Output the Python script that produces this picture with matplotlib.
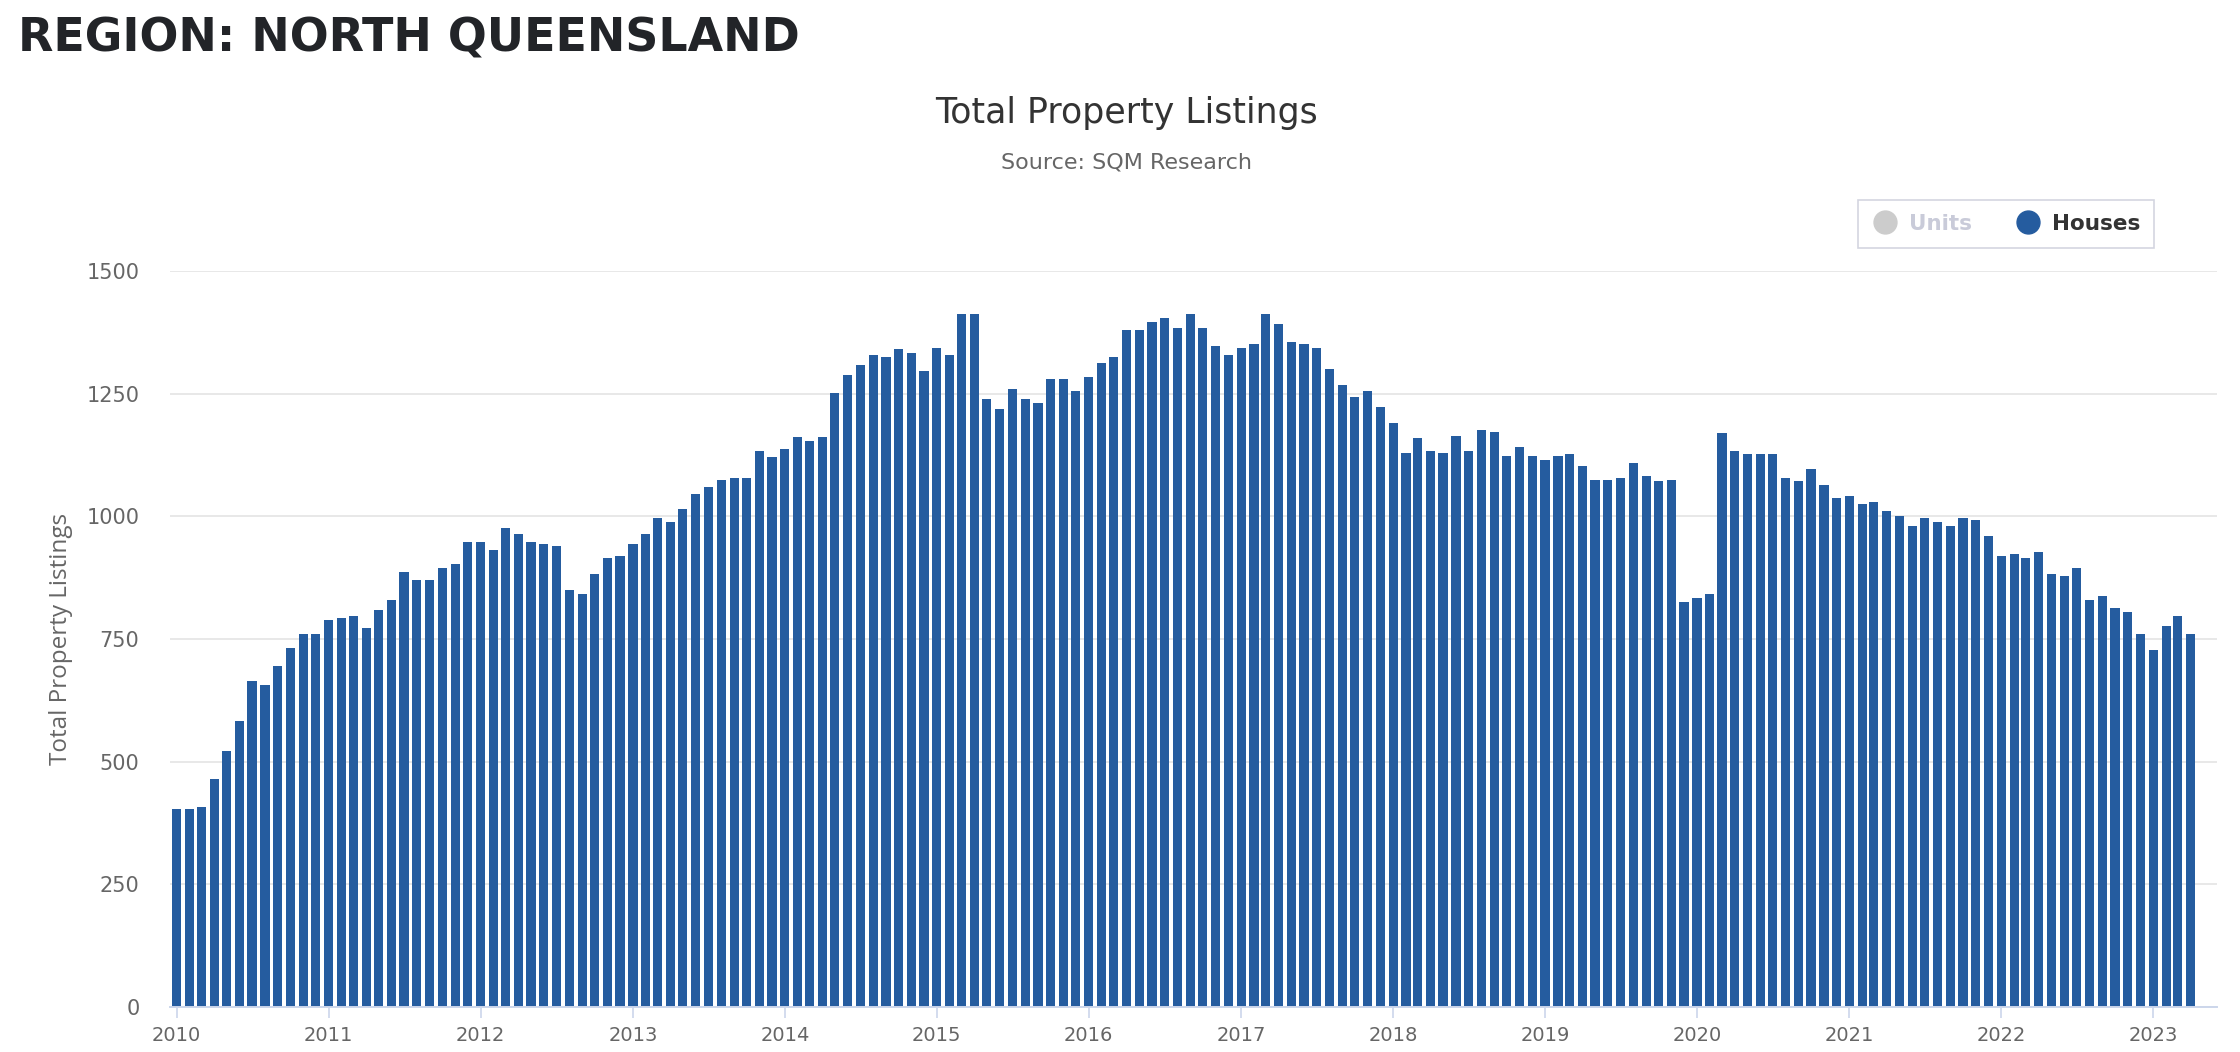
"""
Total Property Listings - North Queensland (SQM Research).
Grafica de barras mensual, solo la serie Houses visible.
"""

import matplotlib
matplotlib.use('Agg')
import matplotlib.pyplot as plt
import matplotlib.dates as mdates
from matplotlib.lines import Line2D
import pandas as pd

# Datos mensuales (Houses), enero 2010 - abril 2023
houses_2010 = [403, 403, 407, 464, 522, 583, 665, 657, 694, 731, 760, 760]
houses_2011 = [788, 792, 796, 772, 809, 829, 887, 870, 870, 895, 903, 948]
houses_2012 = [948, 932, 977, 964, 948, 944, 940, 850, 842, 883, 915, 919]
houses_2013 = [944, 964, 997, 989, 1014, 1046, 1059, 1075, 1079, 1079, 1133, 1120]
houses_2014 = [1137, 1161, 1153, 1161, 1251, 1288, 1309, 1328, 1324, 1340, 1332, 1296]
houses_2015 = [1344, 1328, 1413, 1413, 1239, 1219, 1259, 1239, 1231, 1280, 1280, 1255]
houses_2016 = [1284, 1312, 1324, 1380, 1380, 1396, 1405, 1384, 1413, 1384, 1348, 1328]
houses_2017 = [1344, 1352, 1413, 1392, 1356, 1352, 1344, 1300, 1267, 1243, 1255, 1223]
houses_2018 = [1191, 1130, 1159, 1134, 1130, 1163, 1134, 1175, 1171, 1122, 1142, 1122]
houses_2019 = [1114, 1122, 1126, 1102, 1074, 1075, 1079, 1108, 1083, 1071, 1075, 825]
houses_2020 = [833, 842, 1169, 1133, 1128, 1128, 1128, 1079, 1071, 1096, 1063, 1038]
houses_2021 = [1042, 1026, 1030, 1010, 1001, 981, 997, 989, 981, 997, 993, 960]
houses_2022 = [919, 923, 915, 928, 883, 878, 895, 829, 837, 813, 805, 760]
houses_2023 = [727, 776, 796, 760]

start_month = "2010-01-01"
y_ticks = [0, 250, 500, 750, 1000, 1250, 1500]
legend_labels = ["Units", "Houses"]

houses = (houses_2010 + houses_2011 + houses_2012 + houses_2013 + houses_2014
          + houses_2015 + houses_2016 + houses_2017 + houses_2018 + houses_2019
          + houses_2020 + houses_2021 + houses_2022 + houses_2023)
months = pd.date_range(start_month, periods=len(houses), freq="MS")

BLUE = "#255c9f"
GRID = "#e6e6e6"
AXIS = "#ccd6eb"
TEXT = "#666666"

fig = plt.figure(figsize=(22.4, 10.52), dpi=100)
ax = fig.add_axes([0.0759, 0.0428, 0.9138, 0.6996])

ax.bar(months, houses, width=22, color=BLUE, zorder=2)

# Ejes
ax.set_ylim(0, 1500)
ax.set_yticks(y_ticks)
ax.set_xlim(pd.Timestamp("2009-12-16"), pd.Timestamp("2023-06-03"))
ax.xaxis.set_major_locator(mdates.YearLocator())
ax.xaxis.set_major_formatter(mdates.DateFormatter("%Y"))

ax.grid(axis="y", color=GRID, linewidth=1.3, zorder=0)
for side in ["top", "right", "left"]:
    ax.spines[side].set_visible(False)
ax.spines["bottom"].set_color(AXIS)
ax.spines["bottom"].set_linewidth(1.4)
ax.tick_params(axis="x", colors=AXIS, length=8, width=1.2, labelcolor=TEXT,
               labelsize=14, pad=6)
ax.tick_params(axis="y", length=0, labelcolor=TEXT, labelsize=15, pad=22)
ax.set_ylabel("Total Property Listings", fontsize=17.5, color=TEXT, labelpad=10,
              family="Open Sans")

# Titulos
fig.text(0.008, 0.984, "REGION: NORTH QUEENSLAND", fontsize=33, fontweight="bold",
         color="#222428", va="top", ha="left")
fig.text(0.503, 0.893, "Total Property Listings", fontsize=25, color="#333333",
         ha="center", va="center")
fig.text(0.503, 0.846, "Source: SQM Research", fontsize=16, color=TEXT,
         ha="center", va="center")

# Leyenda (Units oculta)
handles = [
    Line2D([], [], marker="o", linestyle="", markersize=16.5,
           markerfacecolor="#cccccc", markeredgecolor="#cccccc"),
    Line2D([], [], marker="o", linestyle="", markersize=16.5,
           markerfacecolor=BLUE, markeredgecolor=BLUE),
]
leg = fig.legend(handles, legend_labels, loc="upper right", ncol=2,
                 bbox_to_anchor=(2154 / 2240, 1 - 200 / 1052),
                 frameon=True, fancybox=False, edgecolor="#c9cbd9",
                 prop={"size": 15.5, "weight": "bold"}, handletextpad=0.5,
                 columnspacing=2.0, borderpad=0.65, handlelength=1.2,
                 borderaxespad=0)
leg.get_frame().set_linewidth(1.2)
leg.get_texts()[0].set_color("#c9cbd9")
leg.get_texts()[1].set_color("#333333")

plt.savefig("out.png", dpi=100, facecolor="white")
plt.close()
